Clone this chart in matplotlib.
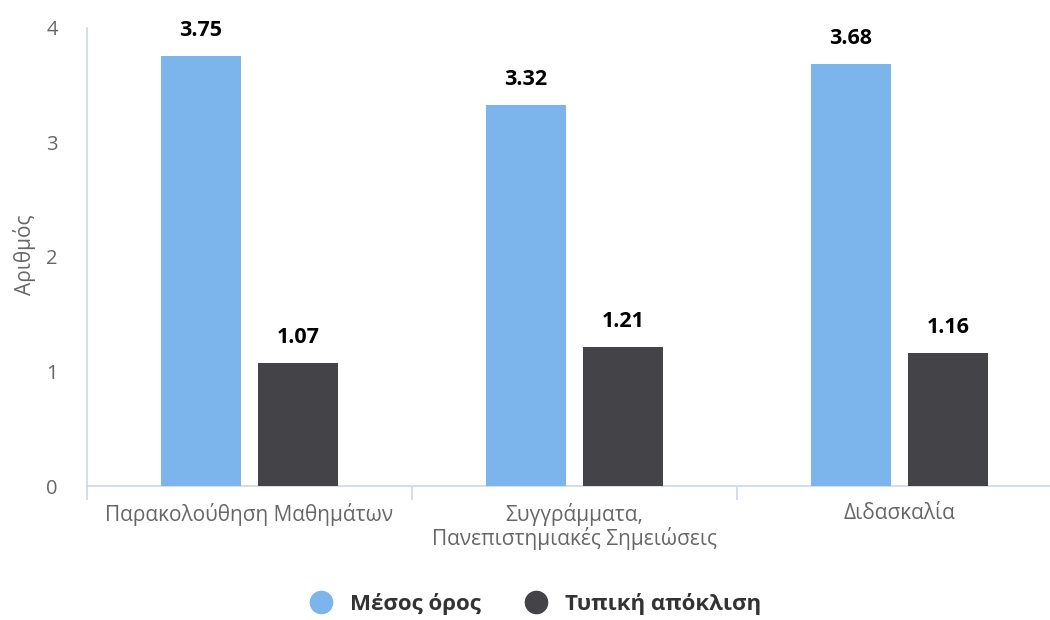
import matplotlib
matplotlib.use("Agg")
import matplotlib.pyplot as plt
from matplotlib.lines import Line2D
import numpy as np

plt.rcParams['font.family'] = ['Open Sans', 'DejaVu Sans']

categories = ["Παρακολούθηση Μαθημάτων",
              "Συγγράμματα,\nΠανεπιστημιακές Σημειώσεις",
              "Διδασκαλία"]
series_names = ["Μέσος όρος", "Τυπική απόκλιση"]
mean_values = [3.75, 3.32, 3.68]
std_values = [1.07, 1.21, 1.16]
y_ticks = [0, 1, 2, 3, 4]
y_title = "Αριθμός"

blue = "#7cb5ec"
dark = "#434348"
axis_color = "#ccd6eb"
label_gray = "#666666"

W, H = 1050, 620
fig = plt.figure(figsize=(W / 100, H / 100), dpi=100)
left_px, right_px, bottom_px, top_px = 87, 1062, 486, 27.5
ax_w, ax_h = right_px - left_px, bottom_px - top_px
ax = fig.add_axes([left_px / W, 1 - bottom_px / H, ax_w / W, ax_h / H])

x = np.arange(len(categories))
bw = 0.245
offset = 0.149
bars1 = ax.bar(x - offset, mean_values, bw, color=blue, zorder=3)
bars2 = ax.bar(x + offset, std_values, bw, color=dark, zorder=3)

for bars, vals in ((bars1, mean_values), (bars2, std_values)):
    for b, v in zip(bars, vals):
        ax.annotate(f"{v:.2f}", (b.get_x() + b.get_width() / 2, v),
                    xytext=(0, 11), textcoords="offset points",
                    ha="center", va="bottom", fontsize=15.5,
                    fontweight="bold", color="black")

ax.set_xlim(-0.5, len(categories) - 0.5)
ax.set_ylim(0, 4)
ax.set_yticks(y_ticks)
ax.set_yticklabels([str(t) for t in y_ticks], fontsize=14.5, color=label_gray)
ax.tick_params(axis="y", length=0, pad=21)

ax.set_xticks(x)
ax.set_xticklabels(categories, fontsize=15, color=label_gray,
                   linespacing=1.1, va="top")
ax.set_xticks(np.arange(len(categories) + 1) - 0.5, minor=True)
ax.tick_params(axis="x", which="major", length=0, pad=12)
ax.tick_params(axis="x", which="minor", length=10, width=1.2,
               color=axis_color)

for side in ("top", "right"):
    ax.spines[side].set_visible(False)
for side in ("left", "bottom"):
    ax.spines[side].set_color(axis_color)
    ax.spines[side].set_linewidth(1.2)

ax.set_ylabel(y_title, fontsize=15, color=label_gray, va="center")
ax.yaxis.set_label_coords((25 - left_px) / ax_w, (bottom_px - 255) / ax_h)

handles = [Line2D([], [], marker="o", linestyle="", markersize=16,
                  markerfacecolor=c, markeredgecolor=c)
           for c in (blue, dark)]
leg = fig.legend(handles, series_names, loc="center",
                 bbox_to_anchor=(530 / W, 1 - 604 / H), ncol=2,
                 frameon=False, handletextpad=0.3, columnspacing=1.5,
                 prop={"size": 16, "weight": "bold"})
for t in leg.get_texts():
    t.set_color("#333333")

fig.savefig("out.png", dpi=100, facecolor="white")
